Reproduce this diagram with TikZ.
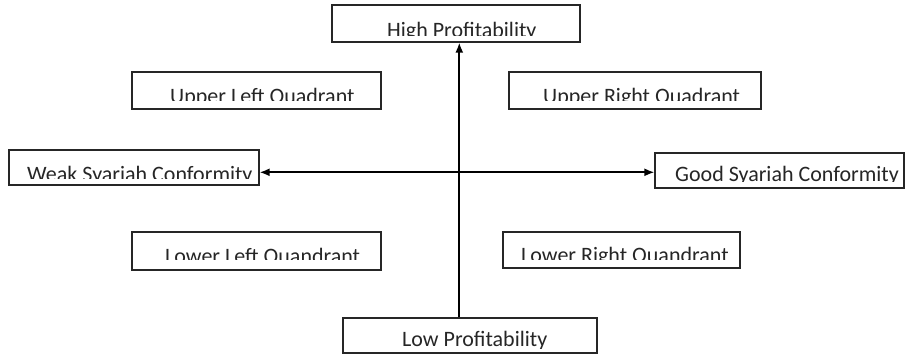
\documentclass[tikz,border=0pt]{standalone}
\usepackage{fontspec}
\setmainfont{Carlito}
\usetikzlibrary{arrows.meta,fit}
\begin{document}
\begin{tikzpicture}[x=1pt,y=-1pt,
  box/.style={draw=black!85, line width=1.2pt, rectangle, inner sep=0pt},
  lbl/.style={anchor=base west, inner sep=0pt, font=\fontsize{22}{26}\selectfont, text=black!85},
  axisline/.style={line width=1.8pt, draw=black},
  tip/.tip={Latex[length=10pt,width=8pt]}]
\useasboundingbox[fill=white] (0,0) rectangle (907,356);
% boxes
\node[box, fit={(332,5) (580,42)}] (hp) {};
\node[box, fit={(132,72) (381,109)}] (ul) {};
\node[box, fit={(509,72) (761,109)}] (ur) {};
\node[box, fit={(9,150) (259,185)}] (wk) {};
\node[box, fit={(655,153) (904,188)}] (gd) {};
\node[box, fit={(132,232) (381,270)}] (ll) {};
\node[box, fit={(503,232) (740,268)}] (lr) {};
\node[box, fit={(343,318) (597,353)}] (lp) {};
% labels, clipped as in the reference
\begin{scope}\clip (332,5) rectangle (580,35);
\node[lbl] (thp) at (387,37) {High Profitability};\end{scope}
\begin{scope}\clip (132,72) rectangle (381,100);
\node[lbl] (tul) at (170,103) {Upper Left Quadrant};\end{scope}
\begin{scope}\clip (509,72) rectangle (761,100);
\node[lbl] (tur) at (543,103) {Upper Right Quadrant};\end{scope}
\begin{scope}\clip (9,150) rectangle (259,178);
\node[lbl] (twk) at (27,181) {Weak Syariah Conformity};\end{scope}
\begin{scope}\clip (655,153) rectangle (904,181);
\node[lbl] (tgd) at (675,181) {Good Syariah Conformity};\end{scope}
\begin{scope}\clip (132,232) rectangle (381,259);
\node[lbl] (tll) at (165,263) {Lower Left Quandrant};\end{scope}
\begin{scope}\clip (503,232) rectangle (740,259);
\node[lbl] (tlr) at (521,262.5) {Lower Right Quandrant};\end{scope}
\begin{scope}\clip (343,318) rectangle (597,348);
\node[lbl] (tlp) at (402,346.5) {Low Profitability};\end{scope}
% axes
\coordinate (ax) at (459.3,172.3);
\draw[axisline, -tip] (lp.north -| ax) -- (hp.south -| ax);
\draw[axisline, tip-tip] (wk.east |- ax) -- (gd.west |- ax);
\end{tikzpicture}
\end{document}
